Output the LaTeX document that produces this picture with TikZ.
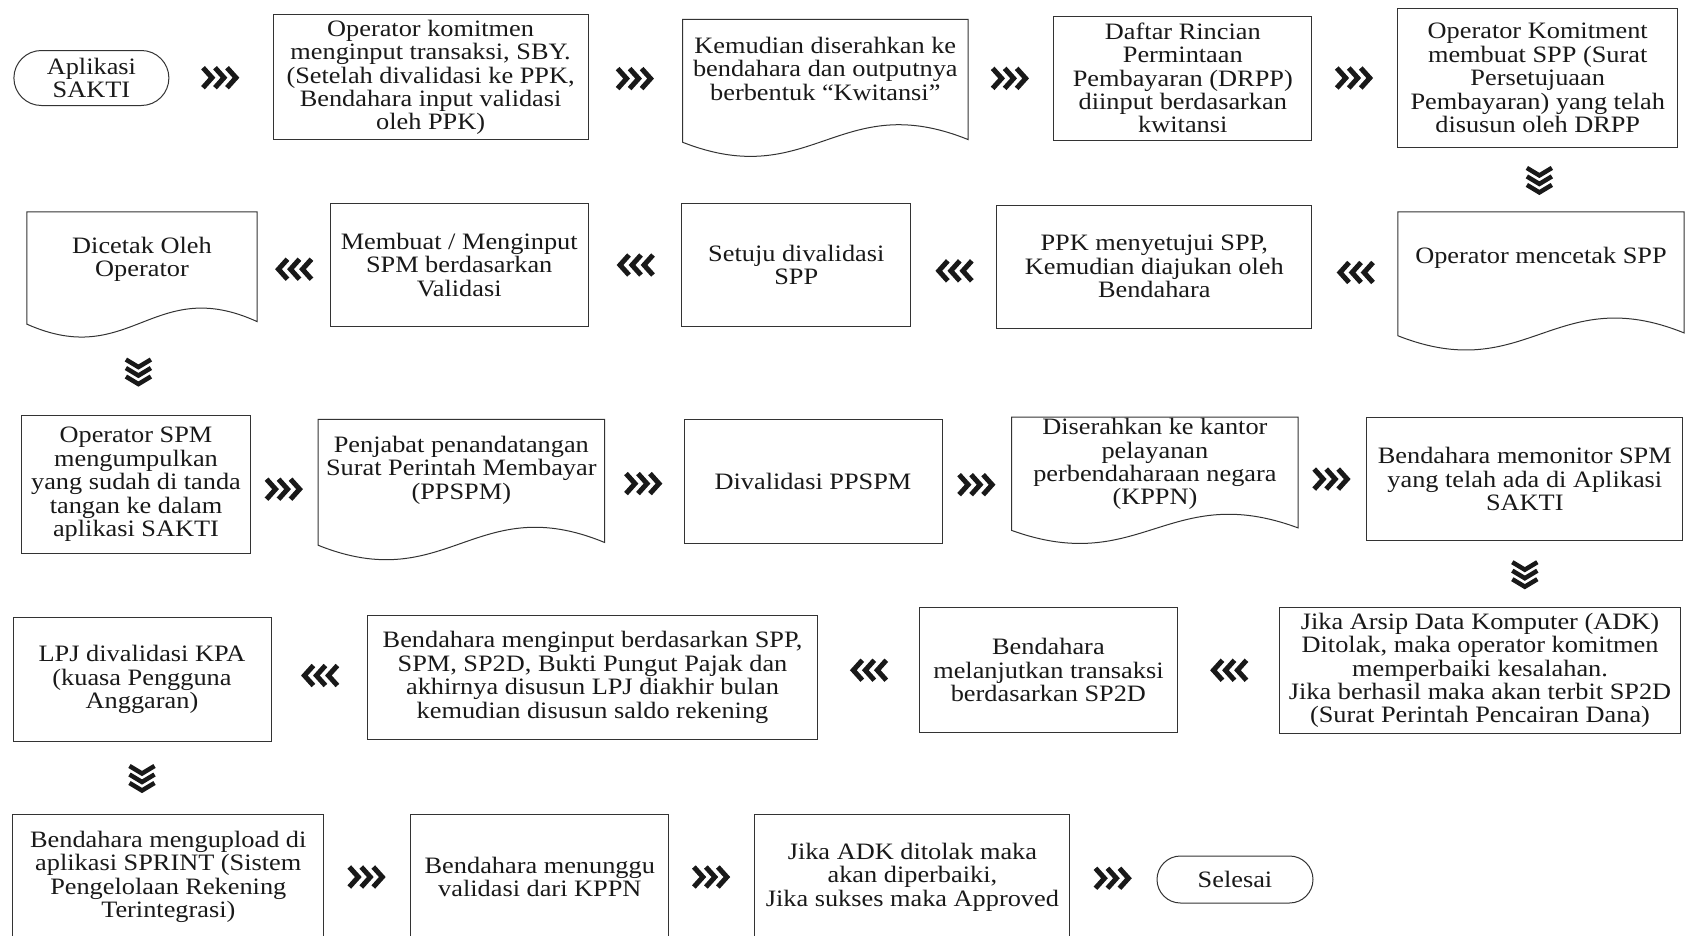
\documentclass[tikz,border=0pt]{standalone}
\usepackage{fontspec}
\setmainfont{Liberation Serif}[FakeStretch=1.12]
\usetikzlibrary{calc,shapes.misc}
\tikzset{
  txt/.style={font=\fontsize{23.5pt}{23.4pt}\selectfont, align=center, inner sep=1pt, text=black!90},
  box/.style={txt, rectangle, draw=black!80, line width=1pt},
  term/.style={txt, rounded rectangle, draw=black!80, line width=1pt},
  doc/.style={txt, rectangle, anchor=north},
  chevR/.style={minimum width=46pt, minimum height=32pt, inner sep=0pt, path picture={
     \foreach \a in {-18,-6,6}{\draw[line width=5pt, black!90, shift={(path picture bounding box.center)}] (\a,-10) -- (\a+9,0) -- (\a,10);}}},
  chevL/.style={minimum width=46pt, minimum height=32pt, inner sep=0pt, path picture={
     \foreach \a in {-18,-6,6}{\draw[line width=5pt, black!90, shift={(path picture bounding box.center)}] (-\a,-10) -- (-\a-9,0) -- (-\a,10);}}},
  chevD/.style={minimum width=36pt, minimum height=36pt, inner sep=0pt, path picture={
     \foreach \a in {-12,-3.5,5}{\draw[line width=4.5pt, black!90, shift={(path picture bounding box.center)}] (-12.5,\a) -- (0,\a+7.5) -- (12.5,\a);}}}
}
\newcommand\docline[2]{%
  \draw[draw=black!80, line width=1pt] (#1.north west) -- (#1.north east)
    -- ($(#1.north east)+(0,0.88*#2)$)
    .. controls ($(#1.north west)!0.55!(#1.north east)+(0,0.5*#2)$) and ($(#1.north west)!0.45!(#1.north east)+(0,1.27*#2)$)
    .. ($(#1.north west)+(0,0.9*#2)$) -- cycle;}
\begin{document}
\begin{tikzpicture}[x=1pt, y=-1pt]
\useasboundingbox (0,0) rectangle (1686,935);
\fill[white] (0,0) rectangle (1686,935);
\clip (0,0) rectangle (1686,935);

% Row 1
\node[term, minimum width=157pt, minimum height=55pt] (start) at (91.4,78) {Aplikasi\\SAKTI};
\node[box, minimum width=315pt, minimum height=125pt] (op1) at (430.6,77.4) {Operator komitmen\\menginput transaksi, SBY.\\(Setelah divalidasi ke PPK,\\Bendahara input validasi\\oleh PPK)};
\node[doc, minimum width=285pt, minimum height=98.3pt] (doc1) at (825.3,19.4) {Kemudian diserahkan ke\\bendahara dan outputnya\\berbentuk “Kwitansi”};
\docline{doc1}{136.5}
\node[box, minimum width=258pt, minimum height=124pt] (drpp) at (1182.8,78) {Daftar Rincian\\Permintaan\\Pembayaran (DRPP)\\diinput berdasarkan\\kwitansi};
\node[box, minimum width=280pt, minimum height=139pt] (spp) at (1537.7,78) {Operator Komitment\\membuat SPP (Surat\\Persetujuaan\\Pembayaran) yang telah\\disusun oleh DRPP};

% Row 2
\node[doc, minimum width=286pt, minimum height=92.5pt] (cetakspp) at (1541,211.8) {Operator mencetak SPP};
\docline{cetakspp}{137.7}
\node[box, minimum width=315pt, minimum height=122.6pt] (ppk) at (1154.3,266.7) {PPK menyetujui SPP,\\Kemudian diajukan oleh\\Bendahara};
\node[box, minimum width=229pt, minimum height=123.7pt] (setuju) at (796.3,265) {Setuju divalidasi\\SPP};
\node[box, minimum width=258pt, minimum height=123.7pt] (membuat) at (459.2,265) {Membuat / Menginput\\SPM berdasarkan\\Validasi};
\node[doc, minimum width=230pt, minimum height=94.8pt] (dicetak) at (142,211.8) {Dicetak Oleh\\Operator};
\docline{dicetak}{124.8}

% Row 3
\node[box, minimum width=229pt, minimum height=138.7pt] (opspm) at (136,484.4) {Operator SPM\\mengumpulkan\\yang sudah di tanda\\tangan ke dalam\\aplikasi SAKTI};
\node[doc, minimum width=286pt, minimum height=100.7pt] (ppspm) at (461.3,419.4) {Penjabat penandatangan\\Surat Perintah Membayar\\(PPSPM)};
\docline{ppspm}{139.8}
\node[box, minimum width=258pt, minimum height=123.7pt] (divppspm) at (813,481.2) {Divalidasi PPSPM};
\node[doc, minimum width=286pt, minimum height=91.3pt] (kppn) at (1154.9,417.2) {Diserahkan ke kantor\\pelayanan\\perbendaharaan negara\\(KPPN)};
\docline{kppn}{125.8}
\node[box, minimum width=316pt, minimum height=123.7pt] (monitor) at (1524.8,479) {Bendahara memonitor SPM\\yang telah ada di Aplikasi\\SAKTI};

% Row 4
\node[box, minimum width=401pt, minimum height=126pt] (adk) at (1480,670.5) {Jika Arsip Data Komputer (ADK)\\Ditolak, maka operator komitmen\\memperbaiki kesalahan.\\Jika berhasil maka akan terbit SP2D\\(Surat Perintah Pencairan Dana)};
\node[box, minimum width=258pt, minimum height=124.7pt] (lanjut) at (1048.4,670) {Bendahara\\melanjutkan transaksi\\berdasarkan SP2D};
\node[box, minimum width=449.4pt, minimum height=124.7pt] (lpjinput) at (592.5,677.4) {Bendahara menginput berdasarkan SPP,\\SPM, SP2D, Bukti Pungut Pajak dan\\akhirnya disusun LPJ diakhir bulan\\kemudian disusun saldo rekening};
\node[box, minimum width=258pt, minimum height=124.7pt] (lpjkpa) at (142,679.6) {LPJ divalidasi KPA\\(kuasa Pengguna\\Anggaran)};

% Row 5
\node[box, minimum width=311pt, minimum height=126pt] (sprint) at (168.3,877) {Bendahara mengupload di\\aplikasi SPRINT (Sistem\\Pengelolaan Rekening\\Terintegrasi)};
\node[box, minimum width=258pt, minimum height=126pt] (menunggu) at (539.8,877) {Bendahara menunggu\\validasi dari KPPN};
\node[box, minimum width=315pt, minimum height=126pt] (approved) at (912.4,877) {Jika ADK ditolak maka\\akan diperbaiki,\\Jika sukses maka Approved};
\node[term, minimum width=158pt, minimum height=47pt] (selesai) at (1235,879.5) {Selesai};

% Chevron connectors
\path (start.east) -- node[chevR] (c1) {} (op1.west);
\path (op1.east) -- node[chevR, yshift=-5.5pt] (c2) {} (doc1.west);
\path (doc1.east) -- node[chevR, yshift=-5pt] (c3) {} (drpp.west);
\path (drpp.east) -- node[chevR] (c4) {} (spp.west);
\path (spp.south) -- node[chevD] (d1) {} (cetakspp.north);
\path (cetakspp.west) -- node[chevL, yshift=-10pt] (c5) {} (ppk.east);
\path (ppk.west) -- node[chevL, yshift=-5pt] (c6) {} (setuju.east);
\path (setuju.west) -- node[chevL] (c7) {} (membuat.east);
\path (membuat.west) -- node[chevL, yshift=-7pt] (c8) {} (dicetak.east);
\path (dicetak.south) -- node[chevD, pos=0.6] (d2) {} (opspm.north);
\path (opspm.east) -- node[chevR, yshift=-12pt] (c9) {} (ppspm.west);
\path (ppspm.east) -- node[chevR, yshift=-8pt] (c10) {} (divppspm.west);
\path (divppspm.east) -- node[chevR, yshift=-12pt] (c11) {} (kppn.west);
\path (kppn.east) -- node[chevR, yshift=-7.5pt] (c12) {} (monitor.west);
\path (monitor.south) -- node[chevD] (d3) {} (monitor.south |- adk.north);
\path (adk.west) -- node[chevL] (c13) {} (lanjut.east);
\path (lanjut.west) -- node[chevL, yshift=3.5pt] (c14) {} (lpjinput.east);
\path (lpjinput.west) -- node[chevL, yshift=3pt] (c15) {} (lpjkpa.east);
\path (lpjkpa.south) -- node[chevD] (d4) {} (lpjkpa.south |- sprint.north);
\path (sprint.east) -- node[chevR] (c16) {} (menunggu.west);
\path (menunggu.east) -- node[chevR] (c17) {} (approved.west);
\path (approved.east) -- node[chevR] (c18) {} (selesai.west);
\end{tikzpicture}
\end{document}
